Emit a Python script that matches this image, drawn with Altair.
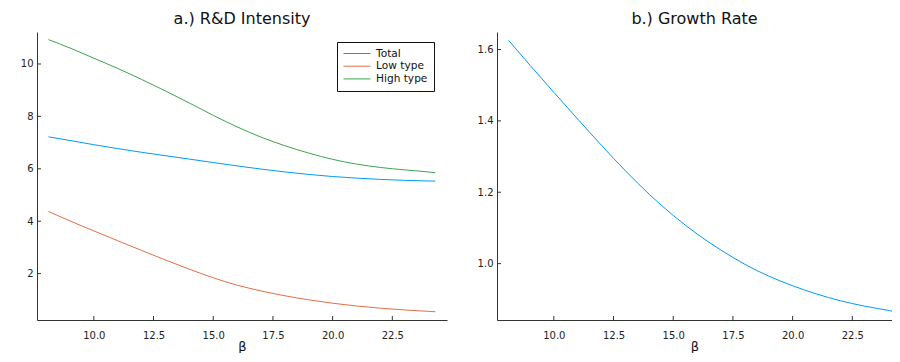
import altair as alt
import pandas as pd

beta = [8.1, 9, 10, 11, 12, 13, 14, 15, 16, 17, 18, 19, 20, 21, 22, 23, 24, 24.3]
total = [7.22, 7.08, 6.92, 6.77, 6.63, 6.50, 6.37, 6.24, 6.11, 5.99, 5.88, 5.785, 5.705, 5.645, 5.595, 5.56, 5.535, 5.53]
low = [4.37, 4.01, 3.63, 3.255, 2.885, 2.52, 2.17, 1.84, 1.56, 1.34, 1.155, 1.00, 0.87, 0.765, 0.68, 0.615, 0.56, 0.545]
high = [10.93, 10.61, 10.22, 9.83, 9.41, 8.97, 8.51, 8.04, 7.60, 7.21, 6.88, 6.60, 6.36, 6.18, 6.05, 5.96, 5.88, 5.85]
growth = [1.626, 1.556, 1.480, 1.405, 1.331, 1.260, 1.194, 1.135, 1.083, 1.038, 0.998, 0.965, 0.938, 0.915, 0.896, 0.881, 0.869, 0.865]

series_names = ["Total", "Low type", "High type"]
series_colors = ["#009AFA", "#E36F47", "#3EA44E"]

x_ticks = [10.0, 12.5, 15.0, 17.5, 20.0, 22.5]
left_yticks = [2, 4, 6, 8, 10]
right_yticks = [1.0, 1.2, 1.4, 1.6]

left_xdomain = [7.62, 24.79]
right_xdomain = [7.62, 24.162]
left_ydomain = [0.23, 11.22]
right_ydomain = [0.842, 1.649]

FONT = "DejaVu Sans"
WL, WR, H = 410, 395, 288
TICK = 4
AXC = "#333333"

rd = pd.DataFrame({"beta": beta * 3,
                   "value": total + low + high,
                   "series": [s for s in series_names for _ in beta]})
gd = pd.DataFrame({"beta": beta, "value": growth})


def xaxis():
    return alt.Axis(values=x_ticks, format=".1f", title="β", grid=False, ticks=False,
                    labelPadding=10, titlePadding=0, titleFontSize=13,
                    titleFontWeight="normal", titleFont=FONT, labelFont=FONT,
                    labelFontSize=10, domainColor=AXC, labelColor="#222222",
                    titleColor="#111111")


def yaxis(vals, fmt):
    return alt.Axis(values=vals, format=fmt, title=None, grid=False, ticks=False,
                    labelPadding=4, labelFont=FONT, labelFontSize=10,
                    domainColor=AXC, labelColor="#222222",
                    minExtent=29, maxExtent=29)


def panel(lines, xdom, ydom, yvals, fmt, title, w):
    xs = alt.Scale(domain=xdom, nice=False, zero=False)
    ys = alt.Scale(domain=ydom, nice=False, zero=False)
    base = lines.encode(
        x=alt.X("beta:Q", scale=xs, axis=xaxis()),
        y=alt.Y("value:Q", scale=ys, axis=yaxis(yvals, fmt)),
    )
    xt = alt.Chart(pd.DataFrame({"beta": x_ticks})).mark_rule(color=AXC, strokeWidth=1).encode(
        x=alt.X("beta:Q", scale=xs, axis=xaxis()),
        y=alt.value(H), y2=alt.value(H - TICK))
    yt = alt.Chart(pd.DataFrame({"value": yvals})).mark_rule(color=AXC, strokeWidth=1).encode(
        y=alt.Y("value:Q", scale=ys, axis=yaxis(yvals, fmt)),
        x=alt.value(0), x2=alt.value(TICK))
    return alt.layer(base, xt, yt).properties(
        width=w, height=H,
        title=alt.TitleParams(title, fontSize=16, font=FONT, fontWeight="normal",
                              offset=5, color="#111111"))


left_lines = alt.Chart(rd).mark_line(strokeWidth=1, interpolate="monotone", clip=True).encode(
    color=alt.Color("series:N", scale=alt.Scale(domain=series_names, range=series_colors),
                    sort=series_names,
                    legend=alt.Legend(title=None, orient="none", legendX=300, legendY=10,
                                      strokeColor="#111111", fillColor="white", padding=6,
                                      labelFont=FONT, labelFontSize=10.6,
                                      symbolType="M-1,0L4.4,0", symbolSize=100,
                                      symbolStrokeWidth=1, rowPadding=0.7,
                                      labelOffset=22, labelColor="#111111")),
    detail="series:N",
)
left = panel(left_lines, left_xdomain, left_ydomain, left_yticks, "d", "a.) R&D Intensity", WL)

right_lines = alt.Chart(gd).mark_line(strokeWidth=1, interpolate="monotone", color="#009AFA",
                                      clip=True)
right = panel(right_lines, right_xdomain, right_ydomain, right_yticks, ".1f", "b.) Growth Rate", WR)

chart = alt.hconcat(left, right, spacing=50, bounds="flush").resolve_scale(
    color="independent", y="independent", x="independent"
).properties(
    padding={"left": 0, "top": 3, "right": 0, "bottom": 0}, background="white"
).configure_view(stroke=None)

chart.save("out.html", embed_options={"renderer": "svg", "actions": False})
